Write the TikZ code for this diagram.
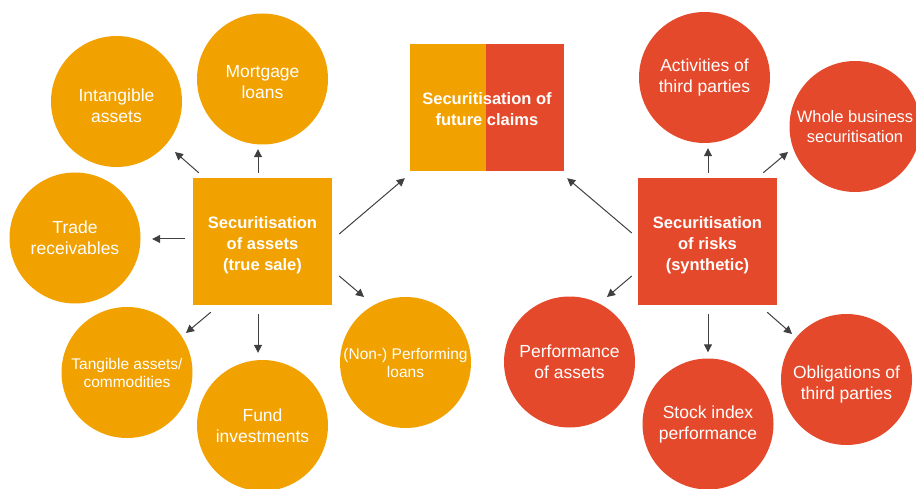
\documentclass[tikz,border=0pt]{standalone}
\usepackage{fontspec}
\setmainfont{Liberation Sans}
\usetikzlibrary{arrows.meta,calc}
\definecolor{gold}{RGB}{241,161,0}
\definecolor{brick}{RGB}{229,73,43}
\definecolor{arrowgrey}{RGB}{64,64,64}
\begin{document}
\begin{tikzpicture}[x=1pt,y=-1pt,
  circ/.style={circle,minimum size=131pt,inner sep=0pt,text=white,align=center,
    font=\fontsize{17.5}{21}\selectfont},
  ctext/.style={inner sep=0pt,text=white,align=center,font=\fontsize{17.5}{21}\selectfont},
  btext/.style={inner sep=0pt,text=white,align=center,font=\bfseries\fontsize{16.5}{21}\selectfont},
  smallcirc/.style={circ,font=\fontsize{15.5}{18}\selectfont},
  box/.style={rectangle,minimum width=139pt,minimum height=127pt,inner sep=0pt,
    text=white,align=center,font=\bfseries\fontsize{16.5}{21}\selectfont},
  arr/.style={draw=arrowgrey,line width=1pt,-{Triangle[length=8pt,width=8pt]}}]
\useasboundingbox (0,0) rectangle (916,489);
\clip (0,0) rectangle (916,489);
% left group
\node[box,fill=gold,label={[btext,yshift=-3.5pt]center:{Securitisation\\of assets\\(true sale)}}] (sa) at (262.5,241.5) {};
\node[circ,fill=gold,label={[ctext,yshift=-4.5pt]center:{Intangible\\assets}}] (int) at (116.5,101.5) {};
\node[circ,fill=gold,label={[ctext,yshift=-3pt]center:{Mortgage\\loans}}] (mort) at (262.5,79) {};
\node[circ,fill=gold] (trade) at (75,238) {Trade\\receivables};
\node[smallcirc,fill=gold] (tang) at (127,372.5) {Tangible assets/\\commodities};
\node[circ,fill=gold] (fund) at (262.5,425.5) {Fund\\investments};
\node[smallcirc,fill=gold] (npl) at (405.5,362.5) {(Non-) Performing\\loans};
% middle
\node[box,minimum width=154pt,path picture={
    \fill[gold] (path picture bounding box.north west) rectangle ($(path picture bounding box.south west)+(76,0)$);
    \fill[brick] ($(path picture bounding box.north west)+(76,0)$) rectangle (path picture bounding box.south east);},
  label={[btext,yshift=-1.5pt]center:{Securitisation of\\future claims}}]
  (fc) at (487,107.5) {};
% right group
\node[box,fill=brick,label={[btext,yshift=-3.5pt]center:{Securitisation\\of risks\\(synthetic)}}] (sr) at (707.5,241.5) {};
\node[circ,fill=brick] (act) at (704.5,77.5) {Activities of\\third parties};
\node[circ,fill=brick,font=\fontsize{16.5}{20}\selectfont] (whole) at (855,126.5) {Whole business\\securitisation};
\node[circ,fill=brick] (perf) at (569.5,362) {Performance\\of assets};
\node[circ,fill=brick] (stock) at (708,424) {Stock index\\performance};
\node[circ,fill=brick,label={[ctext,yshift=-4.5pt]center:{Obligations of\\third parties}}] (obl) at (846.5,379.5) {};
% arrows left
\draw[arr] ($(sa.north west)+(6,-5)$) -- ($(int.center)+(58.5,50.5)$);
\draw[arr] ($(sa.north)+(-4.5,-5)$) -- ($(mort.south)+(-4.5,4.5)$);
\draw[arr] ($(sa.west)+(-8,-2.5)$) -- ($(trade.east)+(11.5,1)$);
\draw[arr] ($(sa.east)+(7,-7.5)$) -- ($(fc.south west)+(-5,7)$);
\draw[arr] ($(sa.east)+(7,34.5)$) -- ($(npl.center)+(-41.5,-65.5)$);
\draw[arr] ($(sa.south west)+(18,7)$) -- ($(tang.center)+(59,-39.5)$);
\draw[arr] ($(sa.south)+(-4.5,9)$) -- ($(fund.north)+(-4.5,-7)$);
% arrows right
\draw[arr] ($(sr.west)+(-6,-8.5)$) -- ($(fc.south east)+(3,7)$);
\draw[arr] ($(sr.north)+(0.5,-5)$) -- ($(act.south)+(3.5,5)$);
\draw[arr] ($(sr.north east)+(-14,-5)$) -- ($(whole.center)+(-67,25.5)$);
\draw[arr] ($(sr.west)+(-6,34.5)$) -- ($(perf.center)+(37.5,-65)$);
\draw[arr] ($(sr.south)+(0.5,9)$) -- ($(stock.north)+(0,-6)$);
\draw[arr] ($(sr.south east)+(-10,7)$) -- ($(obl.center)+(-54.5,-45.5)$);
\end{tikzpicture}
\end{document}
